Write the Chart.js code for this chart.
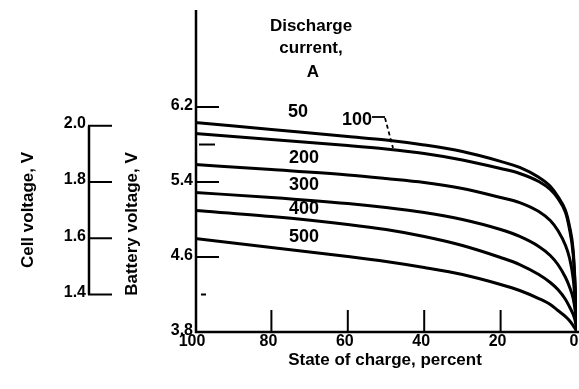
<!DOCTYPE html>
<html>
<head>
<meta charset="utf-8">
<script src="https://cdn.jsdelivr.net/npm/chart.js@4.4.1/dist/chart.umd.min.js"></script>
<style>
  html, body { margin: 0; padding: 0; background: #fff; }
  canvas { display: block; }
</style>
</head>
<body>
<canvas id="dischargeChart" width="579" height="389"></canvas>
<script>
// state of charge, percent (x values shared by every curve)
const socPoints = [100, 80, 60, 50, 40, 30, 20, 15, 10, 7, 5, 3, 2, 1, 0.5, 0];

// battery voltage
const volts50  = [6.035, 5.96, 5.885, 5.848, 5.795, 5.725, 5.62, 5.555, 5.45, 5.355, 5.245, 5.096, 4.936, 4.67, 4.317, 3.8];
const volts100 = [5.917, 5.853, 5.789, 5.752, 5.704, 5.635, 5.544, 5.491, 5.405, 5.32, 5.224, 5.075, 4.904, 4.627, 4.285, 3.8];
const volts200 = [5.587, 5.533, 5.475, 5.437, 5.395, 5.331, 5.235, 5.181, 5.085, 4.989, 4.883, 4.723, 4.595, 4.371, 4.136, 3.8];
const volts300 = [5.288, 5.235, 5.17, 5.128, 5.075, 5.0, 4.893, 4.819, 4.712, 4.616, 4.52, 4.381, 4.285, 4.157, 4.03, 3.8];
const volts400 = [5.096, 5.032, 4.947, 4.893, 4.819, 4.723, 4.595, 4.52, 4.413, 4.328, 4.253, 4.147, 4.072, 3.987, 3.923, 3.8];
const volts500 = [4.797, 4.701, 4.605, 4.552, 4.488, 4.413, 4.307, 4.243, 4.157, 4.093, 4.029, 3.965, 3.923, 3.869, 3.837, 3.8];

const currents = ['50', '100', '200', '300', '400', '500'];
const seriesVolts = [volts50, volts100, volts200, volts300, volts400, volts500];

// tick labels
const xTickLabels = [100, 80, 60, 40, 20, 0];
const xTickMarks = [80, 60, 40, 20];
const batteryMajor = [6.2, 5.4, 4.6];
const batteryLabels = [6.2, 5.4, 4.6, 3.8];
const cellTicks = [2.0, 1.8, 1.6, 1.4];

const FONT = '"Liberation Sans", Arial, sans-serif';

const datasets = seriesVolts.map((vals, i) => ({
  label: currents[i] + ' A',
  data: socPoints.map((s, j) => ({ x: s, y: vals[j] })),
  showLine: true,
  borderColor: '#000',
  borderWidth: 3,
  pointRadius: 0,
  cubicInterpolationMode: 'monotone',
  fill: false
}));

// draws the hand-lettered axes, brackets and curve labels
const axesPlugin = {
  id: 'axesPlugin',
  afterDraw(chart) {
    const ctx = chart.ctx;
    const { left, right, top, bottom } = chart.chartArea;
    const xs = chart.scales.x, ys = chart.scales.y, yc = chart.scales.yCell;
    ctx.save();
    ctx.strokeStyle = '#000';
    ctx.fillStyle = '#000';
    ctx.lineCap = 'butt';

    // main axes
    ctx.lineWidth = 2.5;
    ctx.beginPath();
    ctx.moveTo(left + 1, top);
    ctx.lineTo(left + 1, bottom);
    ctx.lineTo(right + 2, bottom);
    ctx.stroke();

    // battery voltage ticks, pointing inwards
    ctx.lineWidth = 2;
    batteryMajor.forEach(v => {
      const y = ys.getPixelForValue(v);
      ctx.beginPath(); ctx.moveTo(left + 1, y); ctx.lineTo(left + 24, y); ctx.stroke();
    });
    let y = ys.getPixelForValue(5.8);
    ctx.beginPath(); ctx.moveTo(left + 4, y); ctx.lineTo(left + 20, y); ctx.stroke();
    y = ys.getPixelForValue(4.2);
    ctx.beginPath(); ctx.moveTo(left + 6, y); ctx.lineTo(left + 11, y); ctx.stroke();

    // state of charge ticks, pointing up
    xTickMarks.forEach(s => {
      const x = xs.getPixelForValue(s);
      ctx.beginPath(); ctx.moveTo(x, bottom); ctx.lineTo(x, bottom - 22); ctx.stroke();
    });

    ctx.font = 'bold 16px ' + FONT;
    ctx.textAlign = 'right';
    ctx.textBaseline = 'middle';
    batteryLabels.forEach(v => {
      ctx.fillText(v.toFixed(1), left - 2, ys.getPixelForValue(v) - 1);
    });
    ctx.textAlign = 'center';
    xTickLabels.forEach(s => {
      ctx.fillText(String(s), xs.getPixelForValue(s) - 3, bottom + 10);
    });

    ctx.font = 'bold 17px ' + FONT;
    ctx.fillText('State of charge, percent', 385, bottom + 28);

    // cell voltage bracket
    const cx = 89;
    ctx.lineWidth = 2.5;
    ctx.beginPath();
    ctx.moveTo(cx, yc.getPixelForValue(2.0));
    ctx.lineTo(cx, yc.getPixelForValue(1.4));
    ctx.stroke();
    ctx.lineWidth = 2;
    ctx.font = 'bold 16px ' + FONT;
    ctx.textAlign = 'right';
    cellTicks.forEach(v => {
      const py = yc.getPixelForValue(v);
      ctx.beginPath(); ctx.moveTo(cx - 1, py); ctx.lineTo(cx + 23, py); ctx.stroke();
      ctx.fillText(v.toFixed(1), cx - 3, py - 2);
    });

    // rotated axis titles
    ctx.font = 'bold 17px ' + FONT;
    ctx.textAlign = 'center';
    [['Cell voltage, V', 28, 210], ['Battery voltage, V', 132, 224]].forEach(([t, tx, ty]) => {
      ctx.save();
      ctx.translate(tx, ty);
      ctx.rotate(-Math.PI / 2);
      ctx.fillText(t, 0, 0);
      ctx.restore();
    });

    // legend heading
    ctx.fillText('Discharge', 311, 26);
    ctx.fillText('current,', 311, 48);
    ctx.fillText('A', 313, 72);

    // curve labels
    ctx.font = 'bold 18px ' + FONT;
    const labelPos = [[298, 112], [357, 120], [304, 158], [304, 185], [304, 209], [304, 237]];
    currents.forEach((c, i) => ctx.fillText(c, labelPos[i][0], labelPos[i][1]));

    // leader from "100" to its curve
    ctx.lineWidth = 1.8;
    ctx.beginPath(); ctx.moveTo(372, 117); ctx.lineTo(385, 117); ctx.stroke();
    ctx.setLineDash([4, 3]);
    ctx.beginPath(); ctx.moveTo(385, 118); ctx.lineTo(393, 148); ctx.stroke();
    ctx.setLineDash([]);

    ctx.restore();
  }
};

const ctx = document.getElementById('dischargeChart').getContext('2d');
new Chart(ctx, {
  type: 'scatter',
  data: { datasets },
  options: {
    responsive: false,
    animation: false,
    devicePixelRatio: 1,
    layout: { padding: { left: 195, right: 2, top: 10, bottom: 57 } },
    plugins: { legend: { display: false }, tooltip: { enabled: false } },
    scales: {
      x: { type: 'linear', reverse: true, min: 0, max: 100, display: false },
      y: { type: 'linear', min: 3.8, max: 7.235, display: false },
      yCell: { type: 'linear', position: 'left', min: 3.8 / 3, max: 7.235 / 3, display: false }
    }
  },
  plugins: [axesPlugin]
});
</script>
</body>
</html>
